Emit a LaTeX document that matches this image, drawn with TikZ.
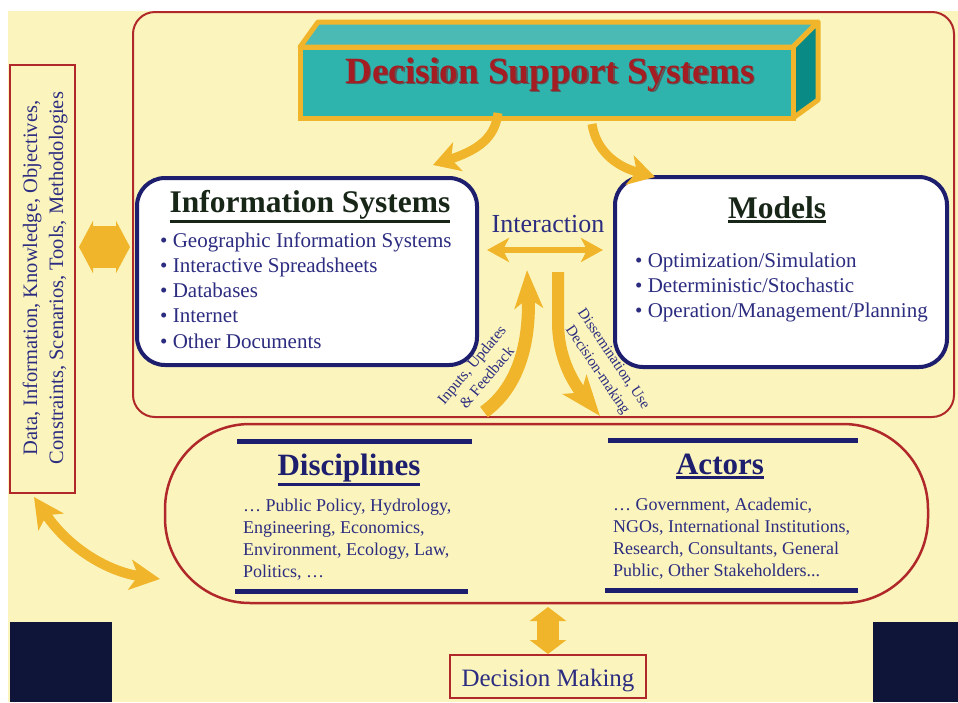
\documentclass[tikz,border=0pt]{standalone}
\usepackage{fontspec}
\setmainfont{Liberation Serif}
\usetikzlibrary{arrows.meta}
\definecolor{bgyellow}{HTML}{FBF5BD}
\definecolor{dssred}{HTML}{B0282A}
\definecolor{navy}{HTML}{1E1E6E}
\definecolor{txtblue}{HTML}{2C2C80}
\definecolor{gold}{HTML}{F0B52A}
\definecolor{tealfront}{HTML}{2EB3AD}
\definecolor{tealtop}{HTML}{4CBAB4}
\definecolor{tealside}{HTML}{0A8A84}
\definecolor{darkgreen}{HTML}{172617}
\definecolor{titlered}{HTML}{A31D22}
\definecolor{darkpanel}{HTML}{0E1538}
\newcommand\ulbox[2]{\vtop{\hbox{#2}\kern1.5pt\hrule height #1}}
\begin{document}
\begin{tikzpicture}[x=1pt,y=-1pt,
  garrow/.style={draw=gold, line width=#1},
  istxt/.style={anchor=base west, text=txtblue, inner sep=0pt, font=\fontsize{21}{25}\selectfont},
  dtxt/.style={anchor=base west, text=txtblue, inner sep=0pt, font=\fontsize{18}{22}\selectfont},
  ttl/.style={anchor=base, inner sep=0pt, font=\bfseries\fontsize{31.5}{36}\selectfont},
  navyrule/.style={draw=navy, line width=5pt},
  emptybox/.style={inner sep=0pt, outer sep=0pt}]
\useasboundingbox (0,0) rectangle (958,702);
\fill[white] (0,0) rectangle (958,702);
\fill[bgyellow] (8,11) rectangle (958,702);
\fill[darkpanel] (10,622) rectangle (112,702);
\fill[darkpanel] (873,622) rectangle (958,702);

% main frames
\node[emptybox, draw=dssred, line width=2pt, rounded corners=22pt, minimum width=821pt, minimum height=405pt] (dssarea) at (543.5,214.5) {};
\node[emptybox, draw=dssred, line width=2.5pt, rounded corners=85pt, minimum width=763pt, minimum height=179pt] (pill) at (546.5,513.5) {};
\node[emptybox, draw=dssred, line width=2.5pt, minimum width=65pt, minimum height=428pt] (leftbox) at (42.5,279) {};
\node[emptybox, draw=dssred, line width=2.5pt, minimum width=196pt, minimum height=43pt] (dm) at (548,676.5) {};

% DSS 3D box
\filldraw[fill=tealtop, draw=gold, line width=5pt, line join=round] (300,47) -- (318,22) -- (818,22) -- (793,47) -- cycle;
\filldraw[fill=tealside, draw=gold, line width=5pt, line join=round] (793,47) -- (818,22) -- (818,100) -- (793,118) -- cycle;
\node[emptybox, fill=tealfront, draw=gold, line width=5pt, minimum width=493pt, minimum height=71pt] (dss) at (546.5,82.5) {};
\node[anchor=base, inner sep=0pt, text=black!65, font=\bfseries\fontsize{37}{40}\selectfont] (dssshadow) at (551.5,84.5) {Decision Support Systems};
\node[anchor=base, inner sep=0pt, text=titlered, font=\bfseries\fontsize{37}{40}\selectfont] (dsstitle) at (550,83) {Decision Support Systems};

% IS and Models boxes
\node[emptybox, draw=navy, fill=white, line width=4pt, rounded corners=28pt, minimum width=340pt, minimum height=187pt] (is) at (307,271.5) {};
\node[emptybox, draw=navy, fill=white, line width=4pt, rounded corners=28pt, minimum width=332pt, minimum height=190pt] (models) at (781,272) {};

\node[ttl, text=darkgreen] (istitle) at (310,212) {\ulbox{3pt}{Information Systems}};
\foreach \t [count=\i from 0] in {Geographic Information Systems, Interactive Spreadsheets, Databases, Internet, Other Documents}
  \node[istxt] (is-\i) at (160,247+25.3*\i) {• \t};

\node[ttl, text=darkgreen] (modtitle) at (777,218) {\ulbox{3pt}{Models}};
\foreach \t [count=\i from 0] in {Optimization/Simulation, Deterministic/Stochastic, Operation/Management/Planning}
  \node[istxt] (mod-\i) at (635,267+25.3*\i) {• \t};

\node[anchor=base, inner sep=0pt, text=txtblue, font=\fontsize{26}{30}\selectfont] (interaction) at (548,232) {Interaction};

% Disciplines / Actors
\coordinate (dr1a) at (237,441); \coordinate (dr1b) at (472,441);
\coordinate (dr2a) at (235,591); \coordinate (dr2b) at (468,591);
\coordinate (ar1a) at (608,440); \coordinate (ar1b) at (858,440);
\coordinate (ar2a) at (605,590); \coordinate (ar2b) at (858,590);
\draw[navyrule] (dr1a) -- (dr1b);
\draw[navyrule] (dr2a) -- (dr2b);
\draw[navyrule] (ar1a) -- (ar1b);
\draw[navyrule] (ar2a) -- (ar2b);
\node[ttl, text=navy, font=\bfseries\fontsize{31}{36}\selectfont] (disctitle) at (349,475) {\ulbox{3pt}{Disciplines}};
\node[ttl, text=navy, font=\bfseries\fontsize{31}{36}\selectfont] (acttitle) at (720,474) {\ulbox{3pt}{Actors}};
\node[dtxt] (d-0) at (243,511) {… Public Policy, Hydrology,};
\node[dtxt] (d-1) at (243,533) {Engineering, Economics,};
\node[dtxt] (d-2) at (243,555) {Environment, Ecology, Law,};
\node[dtxt] (d-3) at (243,577) {Politics, …};
\node[dtxt] (a-0) at (613,510) {… Government, Academic,};
\node[dtxt] (a-1) at (613,532) {NGOs, International Institutions,};
\node[dtxt] (a-2) at (613,554) {Research, Consultants, General};
\node[dtxt] (a-3) at (613,576) {Public, Other Stakeholders...};

% left text
\node[rotate=90, align=center, inner sep=0pt, text=txtblue, font=\fontsize{20.5}{26}\selectfont] (lefttext) at (45,278)
  {Data, Information, Knowledge, Objectives,\\Constraints, Scenarios, Tools, Methodologies};

% Decision making text
\node[anchor=base, inner sep=0pt, text=txtblue, font=\fontsize{25}{28}\selectfont] (dmtext) at (548,686) {Decision Making};

% rotated arrow labels
\node[rotate=50, align=center, inner sep=0pt, text=txtblue, font=\fontsize{15.5}{19.5}\selectfont] (inlabel) at (479,371) {Inputs, Updates\\\& Feedback};
\node[rotate=-56, align=center, inner sep=0pt, text=txtblue, font=\fontsize{15}{19.5}\selectfont] (outlabel) at (605,365) {Dissemination, Use\\Decision-making};

% arrows
\coordinate (a1s) at (498,113); \coordinate (a1e) at (433,165);
\draw[garrow=9pt, -{Stealth[length=26pt,width=30pt,inset=7pt]}] (a1s) .. controls (495,138) and (478,150) .. (a1e);
\coordinate (a2s) at (592,124); \coordinate (a2e) at (655,177);
\draw[garrow=9pt, -{Stealth[length=26pt,width=30pt,inset=7pt]}] (a2s) .. controls (596,150) and (615,166) .. (a2e);

\coordinate (ia1) at (487,250); \coordinate (ia2) at (603,250);
\draw[garrow=6pt, {Stealth[length=22pt,width=24pt,inset=6pt]}-{Stealth[length=22pt,width=24pt,inset=6pt]}] (ia1) -- (ia2);

\coordinate (up1) at (484,412); \coordinate (up2) at (527,270);
\draw[garrow=13pt, -{Stealth[length=38pt,width=28pt,inset=10pt]}] (up1) .. controls (522,385) and (530,335) .. (up2);
\coordinate (dn1) at (558,272); \coordinate (dn2) at (600,416);
\draw[garrow=12pt, -{Stealth[length=40pt,width=30pt,inset=10pt]}] (dn1) -- (558,322) .. controls (558,360) and (575,385) .. (dn2);

\coordinate (la1) at (79,247); \coordinate (la2) at (130,247);
\draw[garrow=42pt, {Triangle[length=14pt,width=52pt]}-{Triangle[length=14pt,width=52pt]}] (la1) -- (la2);

\coordinate (ll1) at (34,497); \coordinate (ll2) at (160,579);
\draw[garrow=10pt, {Stealth[length=30pt,width=30pt,inset=8pt]}-{Stealth[length=30pt,width=30pt,inset=8pt]}] (ll1) .. controls (70,550) and (110,572) .. (ll2);

\coordinate (ba1) at (548,607); \coordinate (ba2) at (548,654);
\draw[garrow=22pt, {Triangle[length=14pt,width=36pt]}-{Triangle[length=14pt,width=36pt]}] (ba1) -- (ba2);
\end{tikzpicture}
\end{document}
